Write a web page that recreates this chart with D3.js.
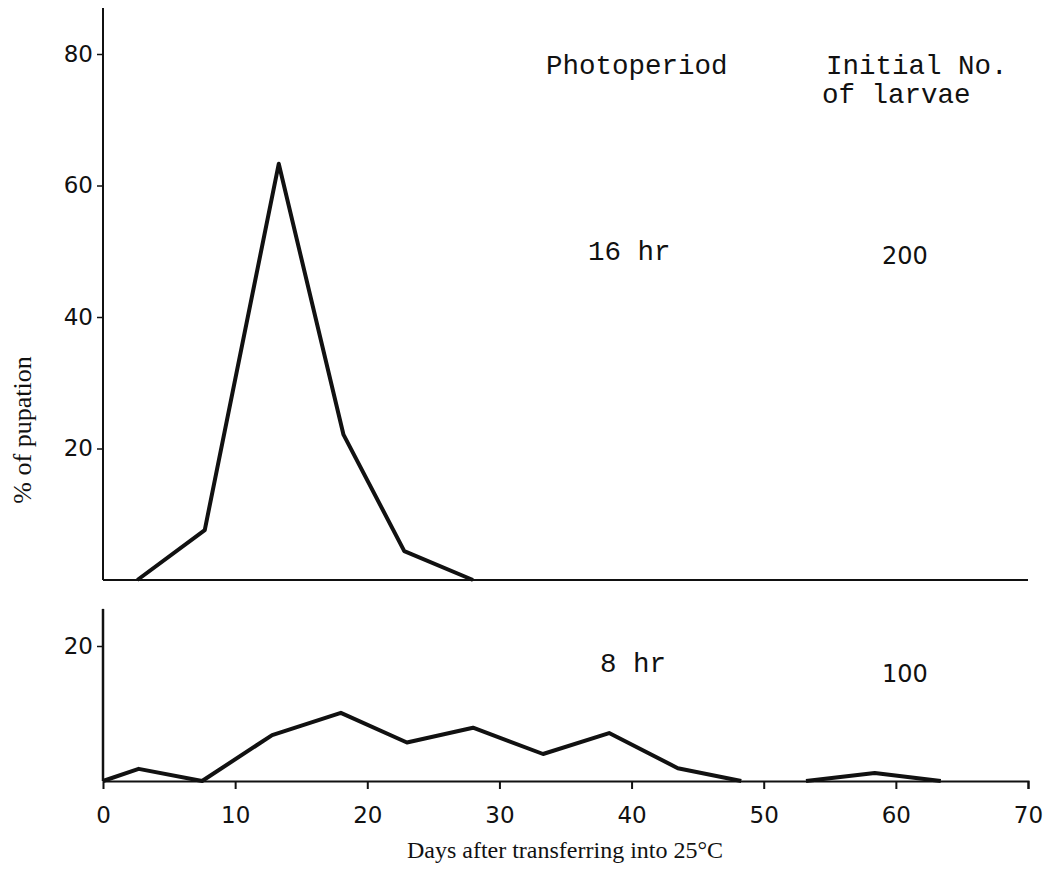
<!DOCTYPE html>
<html>
<head>
<meta charset="utf-8">
<script src="https://cdn.jsdelivr.net/npm/d3@7"></script>
<style>
  body { margin: 0; background: #fff; }
  .tick text { font-family: "DejaVu Sans", sans-serif; font-size: 23px; fill: #111; }
  .mono { font-family: "Liberation Mono", monospace; font-size: 27.5px; fill: #111; }
  .serif { font-family: "Liberation Serif", serif; fill: #111; }
  .num { font-family: "DejaVu Sans", sans-serif; font-size: 24px; fill: #111; }
</style>
</head>
<body>
<div class="chart"></div>
<script>
// 16 hr photoperiod, 200 larvae
const longDays   = [2.6, 7.7, 13.3, 18.2, 22.8, 28.0];
const longPupae  = [0, 7.6, 63.3, 22.1, 4.4, 0];

// 8 hr photoperiod, 100 larvae (two separate runs of the line)
const shortDays  = [0, 2.7, 7.5, 12.8, 18.0, 23.0, 28.0, 33.3, 38.3, 43.5, 48.3];
const shortPupae = [0, 1.8, 0, 6.8, 10.1, 5.7, 7.9, 4.0, 7.1, 1.9, 0];
const lateDays   = [53.2, 58.4, 63.4];
const latePupae  = [0, 1.2, 0];

const xTicks      = [0, 10, 20, 30, 40, 50, 60, 70];
const topTicks    = [20, 40, 60, 80];
const bottomTicks = [20];

const svg = d3.select(".chart").append("svg")
    .attr("width", 1055)
    .attr("height", 873);

const x = d3.scaleLinear().domain([0, 70]).range([103, 1028]);
const yTop = d3.scaleLinear().domain([0, 80]).range([580, 54]);
const yBot = d3.scaleLinear().domain([0, 20]).range([781, 646]);

// axes of the upper panel
svg.append("line")
    .attr("x1", x(0)).attr("x2", x(0))
    .attr("y1", yTop(0)).attr("y2", yTop(87))
    .attr("stroke", "#111").attr("stroke-width", 2);
svg.append("line")
    .attr("x1", x(0)).attr("x2", x(70))
    .attr("y1", yTop(0)).attr("y2", yTop(0))
    .attr("stroke", "#111").attr("stroke-width", 2);

svg.append("g")
    .attr("transform", "translate(" + x(0) + ",0)")
    .call(d3.axisLeft(yTop).tickValues(topTicks).tickSize(6).tickPadding(4))
    .call(g => g.select(".domain").remove())
    .call(g => g.selectAll(".tick line").attr("stroke", "#111").attr("stroke-width", 1.5));

// axes of the lower panel
svg.append("line")
    .attr("x1", x(0)).attr("x2", x(0))
    .attr("y1", yBot(0)).attr("y2", yBot(25.5))
    .attr("stroke", "#111").attr("stroke-width", 2.5);

svg.append("g")
    .attr("transform", "translate(" + x(0) + ",0)")
    .call(d3.axisLeft(yBot).tickValues(bottomTicks).tickSize(6).tickPadding(4))
    .call(g => g.select(".domain").remove())
    .call(g => g.selectAll(".tick line").attr("stroke", "#111").attr("stroke-width", 1.5));

svg.append("g")
    .attr("transform", "translate(0," + yBot(0) + ")")
    .call(d3.axisBottom(x).tickValues(xTicks).tickSize(8).tickPadding(18))
    .call(g => g.select(".domain").attr("stroke", "#111").attr("stroke-width", 2))
    .call(g => g.selectAll(".tick line").attr("stroke", "#111").attr("stroke-width", 2))
    .call(g => g.selectAll(".tick").filter(d => d === 0).select("line").remove());

// data lines
const lineTop = d3.line().x(d => x(d[0])).y(d => yTop(d[1]));
const lineBot = d3.line().x(d => x(d[0])).y(d => yBot(d[1]));

svg.append("path")
    .datum(d3.zip(longDays, longPupae))
    .attr("d", lineTop)
    .attr("fill", "none").attr("stroke", "#111")
    .attr("stroke-width", 4).attr("stroke-linejoin", "round");

svg.selectAll(".short")
    .data([d3.zip(shortDays, shortPupae), d3.zip(lateDays, latePupae)])
    .enter().append("path")
    .attr("class", "short")
    .attr("d", lineBot)
    .attr("fill", "none").attr("stroke", "#111")
    .attr("stroke-width", 4).attr("stroke-linejoin", "round");

// annotations
svg.append("text").attr("class", "mono").attr("x", 546).attr("y", 74).text("Photoperiod");
svg.append("text").attr("class", "mono").attr("x", 826).attr("y", 74).text("Initial No.");
svg.append("text").attr("class", "mono").attr("x", 822).attr("y", 103).text("of larvae");
svg.append("text").attr("class", "mono").attr("x", 588).attr("y", 260).text("16 hr");
svg.append("text").attr("class", "mono").attr("x", 600).attr("y", 672).text("8 hr");

svg.append("text").attr("class", "num").attr("x", 882).attr("y", 264).text("200");
svg.append("text").attr("class", "num").attr("x", 882).attr("y", 682).text("100");

// axis titles
svg.append("text").attr("class", "serif")
    .attr("transform", "translate(31,430) rotate(-90)")
    .attr("text-anchor", "middle")
    .style("font-size", "26px")
    .text("% of pupation");

svg.append("text").attr("class", "serif")
    .attr("x", 565).attr("y", 858)
    .attr("text-anchor", "middle")
    .style("font-size", "24px")
    .text("Days after transferring into 25°C");
</script>
</body>
</html>
